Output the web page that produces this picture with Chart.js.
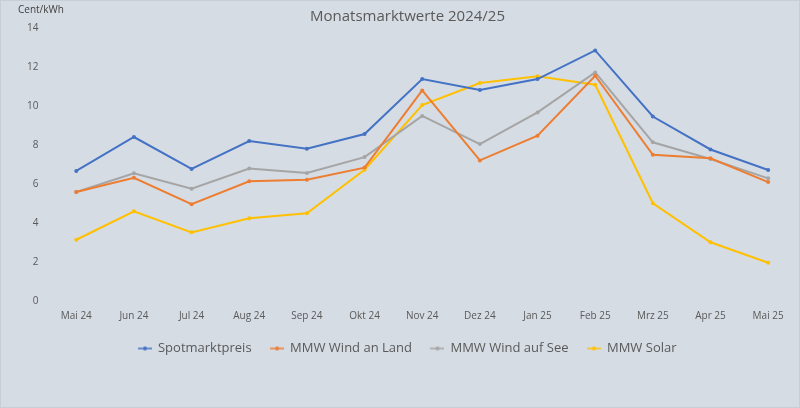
<!DOCTYPE html>
<html>
<head>
<meta charset="utf-8">
<script src="https://cdn.jsdelivr.net/npm/chart.js@4"></script>
<style>
    html, body { margin: 0; padding: 0; background: #d6dce4; }
    #wrap { width: 800px; height: 408px; box-sizing: border-box; border: 1px solid #c8ced6; }
</style>
</head>
<body>
<div id="wrap"><canvas id="marketChart" width="798" height="406"></canvas></div>
<script>
//  Monatsmarktwerte, Cent/kWh
const months = ["Mai 24", "Jun 24", "Jul 24", "Aug 24", "Sep 24", "Okt 24", "Nov 24",
    "Dez 24", "Jan 25", "Feb 25", "Mrz 25", "Apr 25", "Mai 25"];

const spotmarktpreis = [6.67, 8.41, 6.77, 8.2, 7.81, 8.56, 11.38, 10.82, 11.38, 12.85, 9.46, 7.77, 6.72];
const windAnLand     = [5.59, 6.32, 4.96, 6.14, 6.22, 6.84, 10.8, 7.21, 8.48, 11.55, 7.5, 7.32, 6.1];
const windAufSee     = [5.59, 6.55, 5.76, 6.79, 6.56, 7.38, 9.49, 8.05, 9.67, 11.72, 8.14, 7.28, 6.29];
const solar          = [3.14, 4.6, 3.52, 4.24, 4.5, 6.73, 10.05, 11.18, 11.52, 11.09, 5.01, 3.01, 1.96];

const yTicks = [0, 2, 4, 6, 8, 10, 12, 14];

const textColor = "#595959";
const fontFamily = "'Open Sans', 'Noto Sans', sans-serif";

//  small line+dot icon for the legend
function legendIcon(color) {
    const c = document.createElement("canvas");
    c.width = 14;
    c.height = 6;
    const g = c.getContext("2d");
    g.strokeStyle = color;
    g.lineWidth = 1.5;
    g.beginPath();
    g.moveTo(0, 3);
    g.lineTo(14, 3);
    g.stroke();
    g.fillStyle = color;
    g.beginPath();
    g.arc(7, 3, 2, 0, Math.PI * 2);
    g.fill();
    return c;
}

function series(label, data, color) {
    return {
        label: label,
        data: data,
        borderColor: color,
        backgroundColor: color,
        borderWidth: 2,
        pointRadius: 2,
        pointBorderWidth: 0,
        pointHoverRadius: 2,
        tension: 0
    };
}

const unitLabel = {
    id: "unitLabel",
    afterDraw(chart) {
        const ctx = chart.ctx;
        ctx.save();
        ctx.fillStyle = "#404040";
        ctx.font = "10px " + fontFamily;
        ctx.textAlign = "left";
        ctx.textBaseline = "middle";
        ctx.fillText("Cent/kWh", 17, 9);
        ctx.restore();
    }
};

const ctx = document.getElementById("marketChart").getContext("2d");

new Chart(ctx, {
    type: "line",
    data: {
        labels: months,
        datasets: [
            series("Spotmarktpreis", spotmarktpreis, "#4472c4"),
            series("MMW Wind an Land", windAnLand, "#ed7d31"),
            series("MMW Wind auf See", windAufSee, "#a5a5a5"),
            series("MMW Solar", solar, "#ffc000")
        ]
    },
    options: {
        responsive: false,
        animation: false,
        layout: { padding: { left: 17, right: 2, top: 0, bottom: 42 } },
        plugins: {
            title: {
                display: true,
                text: "Monatsmarktwerte 2024/25",
                color: textColor,
                font: { family: fontFamily, size: 15, weight: "normal" },
                padding: { top: 7, bottom: 2 }
            },
            legend: {
                position: "bottom",
                labels: {
                    color: textColor,
                    font: { family: fontFamily, size: 13 },
                    usePointStyle: true,
                    padding: 19,
                    generateLabels(chart) {
                        const items = Chart.defaults.plugins.legend.labels.generateLabels(chart);
                        items.forEach(item => {
                            item.pointStyle = legendIcon(chart.data.datasets[item.datasetIndex].borderColor);
                        });
                        return items;
                    }
                }
            },
            tooltip: { enabled: false }
        },
        scales: {
            x: {
                offset: true,
                grid: { display: false },
                border: { display: false },
                ticks: {
                    color: textColor,
                    font: { family: fontFamily, size: 10 },
                    maxRotation: 0,
                    autoSkip: false,
                    padding: 1
                }
            },
            y: {
                min: 0,
                max: 14,
                grid: { display: false, drawTicks: false },
                border: { display: false },
                afterBuildTicks(axis) {
                    axis.ticks = yTicks.map(v => ({ value: v }));
                },
                ticks: {
                    color: textColor,
                    font: { family: fontFamily, size: 10 },
                    padding: 9
                }
            }
        }
    },
    plugins: [unitLabel]
});
</script>
</body>
</html>
